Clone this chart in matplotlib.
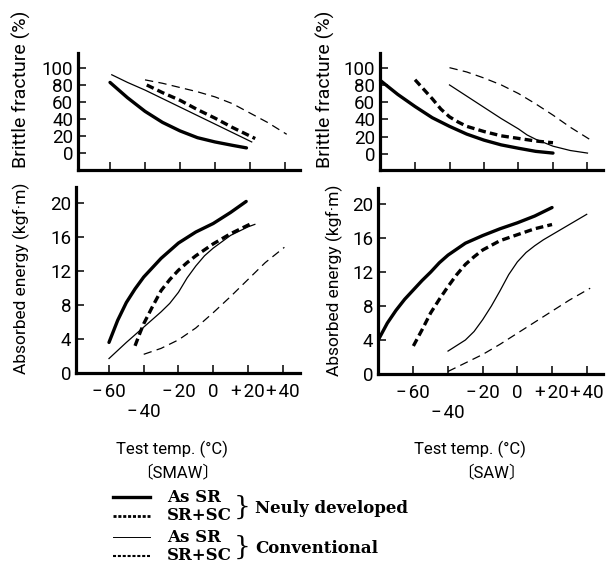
import matplotlib
matplotlib.use('Agg')
import matplotlib.pyplot as plt
from matplotlib.lines import Line2D

# ---------------- data ----------------
# Brittle fracture (%) -- SMAW
smaw_bf_new_asr_t = [-60, -50, -40, -30, -20, -10, 0, 10, 18]
smaw_bf_new_asr_v = [83, 65, 49, 36, 26, 18, 13, 9, 6]
smaw_bf_new_srsc_t = [-39, -30, -20, -10, 0, 10, 23]
smaw_bf_new_srsc_v = [80, 71, 62, 51, 41, 30, 17]
smaw_bf_conv_asr_t = [-59, -50, -40, -30, -20, -10, 0, 10, 21]
smaw_bf_conv_asr_v = [92, 83, 74, 64, 54, 44, 34, 24, 13]
smaw_bf_conv_srsc_t = [-40, -30, -20, -10, 0, 10, 20, 30, 41]
smaw_bf_conv_srsc_v = [86, 82, 77, 72, 66, 58, 47, 36, 22]

# Absorbed energy (kgf·m) -- SMAW
smaw_ae_new_asr_t = [-60, -55, -50, -45, -40, -30, -20, -10, 0, 10, 19]
smaw_ae_new_asr_v = [3.6, 6.2, 8.3, 9.9, 11.3, 13.5, 15.3, 16.6, 17.6, 18.9, 20.2]
smaw_ae_new_srsc_t = [-45, -42, -40, -35, -30, -25, -20, -15, -10, 0, 10, 22]
smaw_ae_new_srsc_v = [3.2, 4.8, 5.8, 7.8, 9.7, 11.0, 12.1, 13.0, 13.8, 15.2, 16.4, 17.6]
smaw_ae_conv_asr_t = [-60, -50, -40, -30, -25, -20, -15, -10, -5, 0, 10, 20, 24]
smaw_ae_conv_asr_v = [1.7, 3.6, 5.4, 7.2, 8.2, 9.5, 11.2, 12.6, 13.8, 14.7, 16.2, 17.2, 17.5]
smaw_ae_conv_srsc_t = [-40, -30, -20, -10, 0, 10, 20, 30, 41]
smaw_ae_conv_srsc_v = [2.2, 2.9, 3.9, 5.3, 7.1, 9.0, 11.0, 13.0, 14.8]

# Brittle fracture (%) -- SAW
saw_bf_new_asr_t = [-80, -70, -60, -50, -40, -30, -20, -10, 0, 10, 20]
saw_bf_new_asr_v = [85, 69, 55, 42, 32, 23, 16, 10.5, 6.6, 3, 1]
saw_bf_new_srsc_t = [-60, -55, -50, -45, -40, -35, -30, -20, -10, 0, 10, 20]
saw_bf_new_srsc_v = [86, 75, 64, 52, 43, 37, 32, 26, 21, 18, 15, 13]
saw_bf_conv_asr_t = [-40, -30, -20, -10, 0, 5, 10, 15, 20, 30, 40]
saw_bf_conv_asr_v = [80, 67, 54, 41, 29, 22, 17, 13, 9, 4, 1]
saw_bf_conv_srsc_t = [-40, -30, -20, -10, 0, 10, 20, 30, 42]
saw_bf_conv_srsc_v = [100, 95, 88, 80, 70, 58, 45, 31, 16]

# Absorbed energy (kgf·m) -- SAW
saw_ae_new_asr_t = [-80, -75, -70, -65, -60, -55, -50, -45, -40, -30, -20, -10, 0, 10, 20]
saw_ae_new_asr_v = [4.1, 6.0, 7.5, 8.8, 9.9, 11.0, 12.0, 13.1, 14.0, 15.4, 16.3, 17.1, 17.8, 18.6, 19.6]
saw_ae_new_srsc_t = [-60, -55, -50, -45, -40, -35, -30, -25, -20, -10, 0, 10, 20]
saw_ae_new_srsc_v = [3.3, 5.2, 7.2, 8.8, 10.3, 11.7, 12.9, 13.8, 14.6, 15.7, 16.4, 17.1, 17.6]
saw_ae_conv_asr_t = [-40, -30, -25, -20, -15, -10, -5, 0, 5, 10, 15, 20, 30, 40]
saw_ae_conv_asr_v = [2.7, 4.0, 5.0, 6.4, 8.0, 9.8, 11.7, 13.2, 14.3, 15.1, 15.8, 16.4, 17.6, 18.8]
saw_ae_conv_srsc_t = [-40, -30, -20, -10, 0, 10, 20, 30, 42]
saw_ae_conv_srsc_v = [0.3, 1.3, 2.3, 3.5, 4.8, 6.1, 7.4, 8.7, 10.1]

x_ticks = [-60, -40, -20, 0, 20, 40]
x_tick_labels = ['\u2212\u200a60', '\u2212\u200a40', '\u2212\u200a20', '0', '+\u200a20', '+\u200a40']
bf_ticks = [0, 20, 40, 60, 80, 100]
ae_ticks = [0, 4, 8, 12, 16, 20]

legend_labels = ['As SR', 'SR+SC', 'As SR', 'SR+SC']
group_labels = ['Neuly developed', 'Conventional']

# ---------------- styling ----------------
plt.rcParams['lines.scale_dashes'] = False
SANS = ['Roboto', 'DejaVu Sans']
SANS_CJK = ['Roboto', 'Noto Sans CJK JP', 'DejaVu Sans']
SERIF = ['DejaVu Serif']

STY = {
    'new_asr': dict(color='black', lw=2.4, ls='-', solid_capstyle='round'),
    'new_srsc': dict(color='black', lw=2.4, ls=(0, (5.5, 3.0))),
    'conv_asr': dict(color='black', lw=0.9, ls='-'),
    'conv_srsc': dict(color='black', lw=0.9, ls=(0, (6.0, 3.8))),
}

W, H = 615, 565
fig = plt.figure(figsize=(W / 100, H / 100), dpi=100)


def px_axes(x0, y0, x1, y1):
    return fig.add_axes([x0 / W, 1 - y1 / H, (x1 - x0) / W, (y1 - y0) / H])


def style_axes(ax, yticks, xlabels):
    for s in ('top', 'right'):
        ax.spines[s].set_visible(False)
    for s in ('left', 'bottom'):
        ax.spines[s].set_linewidth(2.3)
    ax.set_xticks(x_ticks)
    ax.set_yticks(yticks)
    ax.tick_params(direction='in', length=6, width=1.1, color='black')
    ax.tick_params(axis='y', pad=3.5, labelsize=13.5)
    ax.set_yticklabels([str(v) for v in yticks], fontfamily=SANS, fontweight='normal')
    if xlabels:
        labs = [('\n' + l) if v == -40 else l for v, l in zip(x_ticks, x_tick_labels)]
        ax.set_xticklabels(labs, fontfamily=SANS, fontweight='normal', linespacing=1.15)
        ax.tick_params(axis='x', pad=7, labelsize=13.5)
    else:
        ax.set_xticklabels([])


def draw(ax, series):
    for key, t, v in series:
        ax.plot(t, v, **STY[key])


# top-left: brittle SMAW
ax1 = px_axes(78, 53, 300, 170)
draw(ax1, [('new_asr', smaw_bf_new_asr_t, smaw_bf_new_asr_v),
           ('new_srsc', smaw_bf_new_srsc_t, smaw_bf_new_srsc_v),
           ('conv_asr', smaw_bf_conv_asr_t, smaw_bf_conv_asr_v),
           ('conv_srsc', smaw_bf_conv_srsc_t, smaw_bf_conv_srsc_v)])
ax1.set_xlim(-78.3, 48.6)
ax1.set_ylim(-20, 117.6)
style_axes(ax1, bf_ticks, False)

# bottom-left: energy SMAW
ax2 = px_axes(76, 187, 300, 373)
draw(ax2, [('new_asr', smaw_ae_new_asr_t, smaw_ae_new_asr_v),
           ('new_srsc', smaw_ae_new_srsc_t, smaw_ae_new_srsc_v),
           ('conv_asr', smaw_ae_conv_asr_t, smaw_ae_conv_asr_v),
           ('conv_srsc', smaw_ae_conv_srsc_t, smaw_ae_conv_srsc_v)])
ax2.set_xlim(-79, 50)
ax2.set_ylim(0, 21.9)
style_axes(ax2, ae_ticks, True)

# top-right: brittle SAW
ax3 = px_axes(380, 53, 603, 170)
draw(ax3, [('new_asr', saw_bf_new_asr_t, saw_bf_new_asr_v),
           ('new_srsc', saw_bf_new_srsc_t, saw_bf_new_srsc_v),
           ('conv_asr', saw_bf_conv_asr_t, saw_bf_conv_asr_v),
           ('conv_srsc', saw_bf_conv_srsc_t, saw_bf_conv_srsc_v)])
ax3.set_xlim(-80.3, 49)
ax3.set_ylim(-18.6, 117)
style_axes(ax3, bf_ticks, False)

# bottom-right: energy SAW
ax4 = px_axes(378, 188, 603, 374)
draw(ax4, [('new_asr', saw_ae_new_asr_t, saw_ae_new_asr_v),
           ('new_srsc', saw_ae_new_srsc_t, saw_ae_new_srsc_v),
           ('conv_asr', saw_ae_conv_asr_t, saw_ae_conv_asr_v),
           ('conv_srsc', saw_ae_conv_srsc_t, saw_ae_conv_srsc_v)])
ax4.set_xlim(-80.4, 49.4)
ax4.set_ylim(0, 21.9)
style_axes(ax4, ae_ticks, True)

for a in (ax1, ax2, ax3, ax4):
    a.patch.set_alpha(0)
    for ln in a.get_lines():
        ln.set_clip_on(False)


def ftext(x, y, s, **kw):
    fig.text(x / W, 1 - y / H, s, **kw)


lab_kw = dict(rotation=90, ha='center', va='center',
              fontfamily=SANS, fontweight='normal')
ftext(21, 89, 'Brittle fracture (%)', fontsize=14, **lab_kw)
ftext(21, 278, 'Absorbed energy (kgf\u00b7m)', fontsize=12.5, **lab_kw)
ftext(325, 89, 'Brittle fracture (%)', fontsize=14, **lab_kw)
ftext(334, 280, 'Absorbed energy (kgf\u00b7m)', fontsize=12.5, **lab_kw)

t_kw = dict(ha='center', va='center', fontsize=12, fontfamily=SANS_CJK, fontweight='normal')
ftext(172, 449, 'Test temp. (\u00b0C)', **t_kw)
ftext(178, 472, '\u3014SMAW\u3015', **t_kw)
ftext(470, 449, 'Test temp. (\u00b0C)', **t_kw)
ftext(491, 472, '\u3014SAW\u3015', **t_kw)

# ---------------- legend ----------------
leg_keys = ['new_asr', 'new_srsc', 'conv_asr', 'conv_srsc']
leg_rows = [497, 516, 537, 556]
leg_dash = {'new_asr': '-', 'new_srsc': (0, (2.2, 1.3)),
            'conv_asr': '-', 'conv_srsc': (0, (2.2, 1.3))}
leg_lw = {'new_asr': 2.4, 'new_srsc': 2.0, 'conv_asr': 0.7, 'conv_srsc': 1.5}
for key, y, lab in zip(leg_keys, leg_rows, legend_labels):
    fig.add_artist(Line2D([113 / W, 150 / W], [1 - y / H, 1 - y / H],
                          color='black', lw=leg_lw[key], ls=leg_dash[key]))
    ftext(167, y, lab, ha='left', va='center', fontsize=12,
          fontfamily=SERIF, fontweight='bold')

for (ya, yb), glab in zip([(leg_rows[0], leg_rows[1]), (leg_rows[2], leg_rows[3])], group_labels):
    ym = (ya + yb) / 2
    ftext(242, ym + 1, '}', ha='center', va='center', fontsize=19,
          fontfamily=SERIF, fontweight='normal')
    ftext(255, ym + 2, glab, ha='left', va='center', fontsize=12,
          fontfamily=SERIF, fontweight='bold')

fig.savefig('out.png', dpi=100)
